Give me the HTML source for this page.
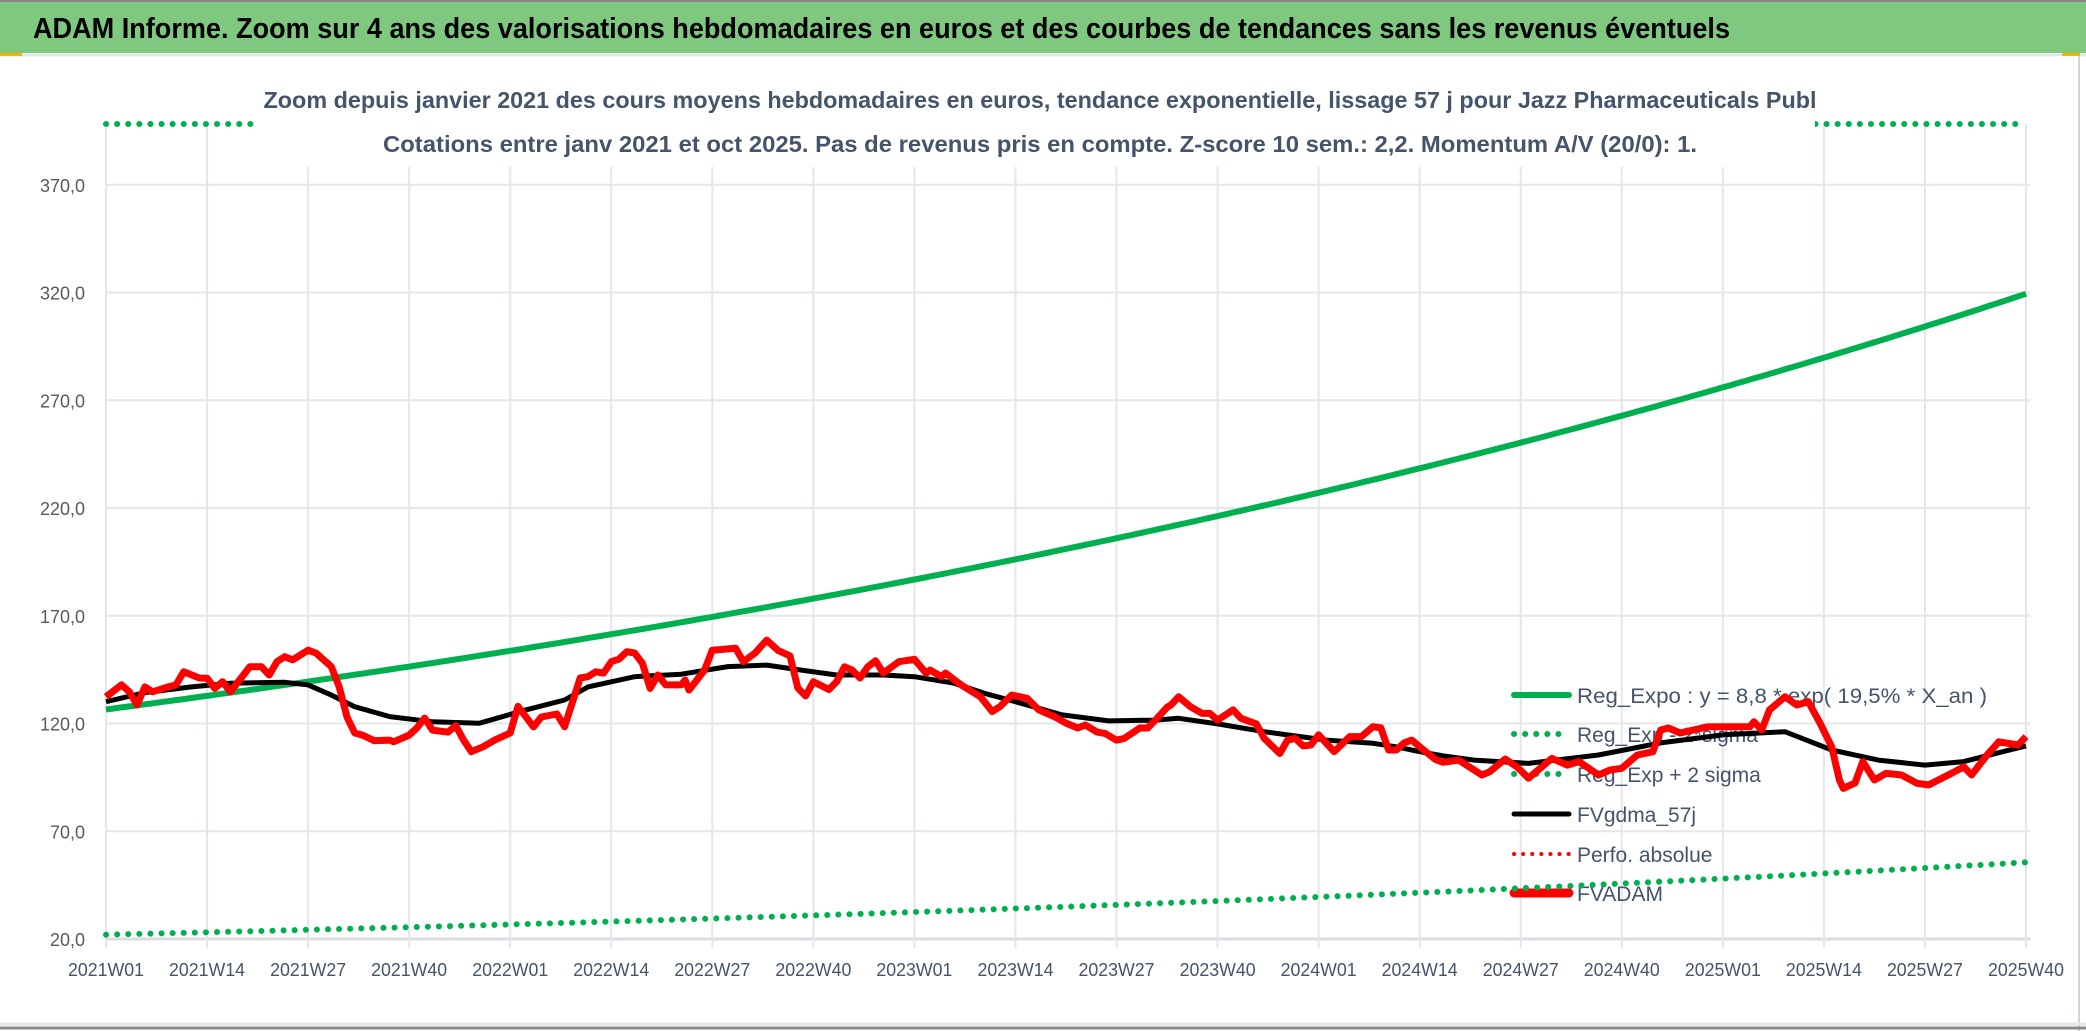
<!DOCTYPE html>
<html><head><meta charset="utf-8">
<style>
html,body{margin:0;padding:0;background:#fff;}
svg{display:block;font-family:"Liberation Sans",sans-serif;}
</style></head>
<body>
<svg id="chart" width="2086" height="1031" viewBox="0 0 2086 1031" xmlns="http://www.w3.org/2000/svg">
<rect x="0" y="0" width="2086" height="1031" fill="#fff"/>
<rect x="0" y="0" width="2086" height="53" fill="#7ec97f"/>
<line x1="0" y1="1" x2="2086" y2="1" stroke="#8a8a8a" stroke-width="2"/>
<text x="33" y="38" font-size="29" font-weight="bold" fill="#000" textLength="1697" lengthAdjust="spacingAndGlyphs">ADAM Informe. Zoom sur 4 ans des valorisations hebdomadaires en euros et des courbes de tendances sans les revenus éventuels</text>
<line x1="0" y1="55" x2="2086" y2="55" stroke="#e3e6ea" stroke-width="3"/>
<rect x="0" y="53" width="22" height="3" fill="#f2b600"/>
<rect x="2062" y="53" width="18" height="18" fill="#f2b600"/>
<rect x="2058" y="56" width="22" height="975" fill="#fff"/>
<line x1="2079" y1="56" x2="2079" y2="1031" stroke="#d0d3d8" stroke-width="2"/>
<line x1="0" y1="1028" x2="2086" y2="1028" stroke="#8a8a8a" stroke-width="3"/>
<line x1="0" y1="1024" x2="2086" y2="1024" stroke="#e3e6ea" stroke-width="3"/>
<g id="grid"></g>
<g id="axes"></g>
<g id="legend"></g>
<g id="series"></g>
<rect x="258" y="70" width="1557" height="97" fill="#fff"/>
<text x="1040" y="108" text-anchor="middle" font-size="23" font-weight="bold" fill="#44546a" textLength="1553" lengthAdjust="spacingAndGlyphs">Zoom depuis janvier 2021 des cours moyens hebdomadaires en euros, tendance exponentielle, lissage 57 j pour Jazz Pharmaceuticals Publ</text>
<text x="1040" y="152" text-anchor="middle" font-size="23" font-weight="bold" fill="#44546a" textLength="1314" lengthAdjust="spacingAndGlyphs">Cotations entre janv 2021 et oct 2025. Pas de revenus pris en compte. Z-score 10 sem.: 2,2. Momentum A/V (20/0): 1.</text>
</svg>
<script>
// ---- data ----
const yTicks = [20, 70, 120, 170, 220, 270, 320, 370];
const yTickLabels = ["20,0","70,0","120,0","170,0","220,0","270,0","320,0","370,0"];
const xLabels = ["2021W01","2021W14","2021W27","2021W40","2022W01","2022W14","2022W27","2022W40","2023W01","2023W14","2023W27","2023W40","2024W01","2024W14","2024W27","2024W40","2025W01","2025W14","2025W27","2025W40"];
const totalWeeks = 247;
const regStart = [126.5];
const regRate = [0.195];
const sigmaLowFactor = [0.174];
const sigmaHighFactor = [5.75];
const fvWeeks = [0,2,3,4,5,6,8,9,10,12,13,14,15,16,18.5,20,21,22,23,24,26,27,28.5,29,30,31,32,33,34.5,36.5,37,39,40,41,42,44,45,46,47,48.5,50,52,53,55,56,58,59,61,62,63,64,65,66,67,68,69,70,71,72,74,74.5,75,77,78,81,82,83.5,85,86.5,88,89,90,91,93,94,95,96,97,98,99,100,102,104,105.5,106,107.5,108,110,112.5,114,115,116.5,118.5,120,122,123.5,125,126,127.5,128.5,130,131,133,134,135,136.5,137,138,139.5,141,142,143,145,146,148,149,151,152,153,154,155,156,158,160,161.5,163,164,165,166,167,168,169,171,172,174,177,178,180,181.5,183,186,188,189.5,192,193.5,195,197,199,200,201,202.5,206,209,211.5,212,213,214,216,217.5,219,220.5,222,223,223.5,225,226,227.5,229,231,233,234.5,237,239,240,242,243.5,246,247];
const fvValues = [132.4,137.9,134.7,128.6,137,134.7,137,137.9,144,141.1,141,136.3,139.4,134.7,146.3,146.3,142.5,148.7,151,149.5,154,152.7,148,146.3,137,123,115.6,114.6,112,112.3,111.5,114.6,117.9,122.5,116.9,116,119,112.3,106.9,109.2,112.3,115.6,128,118.4,123,124.4,118.5,141.1,141.7,144,143.4,148.7,149.9,153.3,152.7,148,136.3,142.5,137.9,137.9,140.2,135.5,144.8,154,154.9,148.7,152.7,158.7,153.8,151.4,136.5,132.8,139.4,135.8,139.4,146.3,144.8,141.1,146.3,149.1,143.4,148.7,149.8,143.4,144.8,141.7,143.4,137.9,132.4,125.5,127.8,133.2,131.7,126.3,123.2,120.2,117.9,119.3,116,115.4,112.3,113.1,117.9,117.9,121.6,127.5,128.6,132.4,127.8,124.7,124.7,121.6,126.3,122.4,119.8,113.1,106.1,112.3,113.1,109.6,110,114.7,106.9,113.9,113.9,118.5,118,107.7,107.7,111,112.3,109.2,103.4,102,103,96.1,97.6,103.5,99.9,94.6,103.8,100.7,102.3,96.1,98.4,99.2,105.4,106.9,117,117.9,115.6,118.4,118.5,118.5,120.8,117,126.3,132.4,128.6,130.1,120.2,109.2,93.8,89.9,92.4,102.3,93.8,96.9,96.1,92.2,91.5,96.1,99.9,96.1,105.4,111.5,110,113.9];
const maWeeks = [0,5,11,16,23,26,29,32,36.5,42,48,54,59,62,68,74,80,85,89,94,100,104,109,113,117,123,129,135,138,143,149,152,157,163,166,169,172,176,183,192,200,208,216,222,228,234,239,244,247];
const maValues = [130.1,134.3,137,138.7,139.1,137.9,133.2,127.8,123.2,120.8,120.1,126.3,130.9,137,141.7,142.9,146.4,147.1,145,142.5,142.5,141.7,138.8,134,130.1,124,121.2,121.6,122.4,119.8,116.2,114.7,112.3,110.8,109.2,106.9,105,103,101.5,105.4,111,114.7,116.2,107.7,103,100.7,102.3,106.9,109.6];

// ---- scales ----
const X0 = 106, X1 = 2026, Y20 = 939, PXU = 2.155, TOP = 124;
function xs(w){ return X0 + (X1 - X0) * w / totalWeeks; }
function ys(v){ return Y20 - (v - 20) * PXU; }
const NS = "http://www.w3.org/2000/svg";
function mk(tag, attrs, parent){ const e = document.createElementNS(NS, tag); for (const k in attrs) e.setAttribute(k, attrs[k]); parent.appendChild(e); return e; }
const grid = document.getElementById('grid'), axes = document.getElementById('axes'), legend = document.getElementById('legend'), series = document.getElementById('series');

// grid + y labels
yTicks.forEach((t, i) => {
  const l = mk('line', {x1: X0, x2: X1 + 4, y1: ys(t), y2: ys(t), stroke: t === 20 ? '#d9dce1' : '#e3e6ea', 'stroke-width': t === 20 ? 3 : 2}, grid);
  
  
  const tx = mk('text', {x: 85, y: ys(t) + 7, 'text-anchor': 'end', 'font-size': 18, fill: '#595959'}, axes);
  tx.textContent = yTickLabels[i];
  
  
});
xLabels.forEach((lab, i) => {
  const x = xs(i * 13);
  const l = mk('line', {x1: x, x2: x, y1: TOP, y2: Y20 + 9, stroke: '#e3e6ea', 'stroke-width': 2}, grid);
  
  
  const tx = mk('text', {x: x, y: 976, 'text-anchor': 'middle', 'font-size': 18, fill: '#44546a', textLength: 76, lengthAdjust: 'spacingAndGlyphs'}, axes);
  tx.textContent = lab;
  
  
});

// legend (drawn under the series, as in the reference)
const legItems = [
  {t: 'Reg_Expo : y = 8,8 * exp( 19,5% *  X_an )', c: '#00b050', d: null, w: 6, len: 410},
  {t: 'Reg_Exp - 2*sigma', c: '#00b050', d: '0.1 11', w: 6},
  {t: 'Reg_Exp + 2 sigma', c: '#00b050', d: '0.1 11', w: 6},
  {t: 'FVgdma_57j', c: '#000', d: null, w: 5},
  {t: 'Perfo. absolue', c: '#ff0000', d: '0.1 9', w: 4},
  {t: 'FVADAM', c: '#ff0000', d: null, w: 9}
];
const legY = [695, 734, 774, 814, 854, 893];
legItems.forEach((it, i) => {
  const g = mk('g', {}, legend);
  
  
  const a = {x1: 1514, x2: 1569, y1: legY[i], y2: legY[i], stroke: it.c, 'stroke-width': it.w, 'stroke-linecap': 'round'};
  if (it.d) a['stroke-dasharray'] = it.d;
  mk('line', a, g);
  const ta = {x: 1577, y: legY[i] + 8, 'font-size': 21, fill: '#44546a'};
  if (it.len) { ta.textLength = it.len; ta.lengthAdjust = 'spacingAndGlyphs'; }
  const tx = mk('text', ta, g);
  tx.textContent = it.t;
});

// series
function path(ws, vs, clampTop){
  return ws.map((w, i) => (i ? 'L' : 'M') + xs(w).toFixed(1) + ',' + Math.max(clampTop ? TOP : -1e9, ys(vs[i])).toFixed(1)).join(' ');
}
const allW = []; for (let w = 0; w <= totalWeeks; w++) allW.push(w);
const regV = allW.map(w => regStart[0] * Math.exp(regRate[0] * w / 52));
const lowV = regV.map(v => v * sigmaLowFactor[0]);
const highV = regV.map(v => v * sigmaHighFactor[0]);

const pLow = mk('path', {d: path(allW, lowV), fill: 'none', stroke: '#00b050', 'stroke-width': 6, 'stroke-dasharray': '0.1 11', 'stroke-linecap': 'round'}, series);


const pHigh = mk('path', {d: path(allW, highV, true), fill: 'none', stroke: '#00b050', 'stroke-width': 6, 'stroke-dasharray': '0.1 11', 'stroke-linecap': 'round'}, series);


const pReg = mk('path', {d: path(allW, regV), fill: 'none', stroke: '#00b050', 'stroke-width': 6, 'stroke-linejoin': 'round'}, series);


const pMa = mk('path', {d: path(maWeeks, maValues), fill: 'none', stroke: '#000', 'stroke-width': 5, 'stroke-linejoin': 'round'}, series);


const pFv = mk('path', {d: path(fvWeeks, fvValues), fill: 'none', stroke: '#ff0000', 'stroke-width': 7, 'stroke-linejoin': 'round'}, series);


</script>
</body></html>
